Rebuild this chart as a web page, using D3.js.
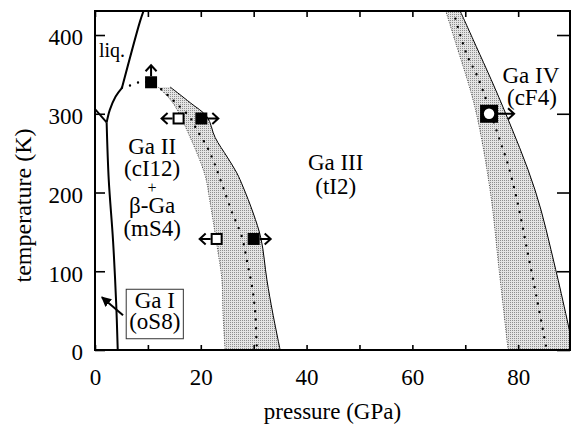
<!DOCTYPE html>
<html>
<head>
<meta charset="utf-8">
<script src="https://cdn.jsdelivr.net/npm/d3@7"></script>
<style>
body { margin: 0; background: #fff; }
text { font-family: "Liberation Serif", "Times New Roman", serif; fill: #000; }
</style>
</head>
<body>
<div id="phase_plot"></div>
<script>
// axis ticks
var pressureTicks = [0, 20, 40, 60, 80];
var pressureMinor = [10, 30, 50, 70];
var temperatureTicks = [0, 100, 200, 300, 400];

// phase lines, points are [pressure GPa, temperature K]
var meltGaI = [[0, 306], [2.2, 289]];
var lineGaI_II = [[2.2, 289], [2.6, 216], [3.4, 140], [4.0, 60], [4.3, 0]];
var meltGaII = [[2.2, 289], [2.8, 305], [3.9, 322], [5.1, 333]];
var meltGaIII = [[5.1, 333], [8.5, 417], [9.2, 431]];

// Ga II -> Ga III transition band
var bandII_left = [[11.9, 334], [14.7, 314], [18.0, 270], [20.8, 222], [21.7, 190], [23.1, 131], [24.0, 89], [24.2, 47], [24.6, 0]];
var bandII_right = [[14.2, 334], [18.0, 314], [21.2, 296], [22.7, 270], [25.0, 245], [26.8, 225], [28.0, 207], [29.9, 174], [31.4, 141], [32.5, 89], [33.6, 47], [35.0, 0]];
var bandII_mid = [[5.1, 333], [6.0, 334], [7.6, 339], [9.1, 340], [10.6, 340], [12.7, 330], [15.1, 315], [18.0, 295], [19.3, 279], [21.2, 258], [22.7, 235], [24.2, 207], [25.9, 175], [27.8, 143], [28.7, 114], [29.7, 80], [30.3, 47], [30.6, 4], [30.7, 0]];

// Ga III -> Ga IV transition band
var bandIV_left = [[66.3, 431], [68.0, 394], [71.8, 309], [74.7, 203], [76.4, 102], [78.1, 0]];
var bandIV_right = [[69.0, 431], [71.5, 394], [77.1, 309], [83.2, 203], [87.1, 102], [90.5, 0]];
var bandIV_mid = [[67.7, 431], [70.3, 375], [72.2, 349], [74.1, 315], [76.2, 273], [78.1, 235], [79.8, 190], [81.7, 127], [83.6, 63], [85.4, 0]];

// measured points with arrows
var markers = [
  {p: 10.6, t: 340, kind: "filled", dir: "up"},
  {p: 15.8, t: 294, kind: "open", dir: "left"},
  {p: 20.1, t: 294, kind: "filled", dir: "right"},
  {p: 23.0, t: 141, kind: "open", dir: "left"},
  {p: 30.0, t: 141, kind: "filled", dir: "right"},
  {p: 74.5, t: 300, kind: "circle", dir: "right"}
];

// phase labels, lines with the same block go into one text
var labels = [
  {block: "liq", text: "liq.", p: 0.75, t: 372, size: 20, anchor: "start"},
  {block: "II", text: "Ga II", p: 10.8, t: 249},
  {block: "II", text: "(cI12)", p: 10.8, t: 221},
  {block: "II", text: "+", p: 10.8, t: 200, size: 16},
  {block: "II", text: "β-Ga", p: 10.8, t: 174},
  {block: "II", text: "(mS4)", p: 10.8, t: 145},
  {block: "III", text: "Ga III", p: 45.5, t: 229},
  {block: "III", text: "(tI2)", p: 45.5, t: 198},
  {block: "IV", text: "Ga IV", p: 82.4, t: 339},
  {block: "IV", text: "(cF4)", p: 82.6, t: 311}
];
var gaIBoxLines = [{text: "Ga I", p: 11.3, t: 53}, {text: "(oS8)", p: 11.3, t: 27}];
var gaIArrow = [[5.3, 44], [1.3, 67]];


var PhasePlot = function(options){
	this.opt = {'target': 'phase_plot', 'width': 572, 'height': 428};
	Object.assign(this.opt, options || {});
	this.setupSVG();
	this.renderPlot();
};

PhasePlot.prototype.setupSVG = function(){
	var margin = {top: 11, right: 2, bottom: 78, left: 95};
	this.x = d3.scaleLinear().domain([0, 89.8]).range([margin.left, this.opt.width - margin.right]);
	this.y = d3.scaleLinear().domain([0, 430.5]).range([this.opt.height - margin.bottom, margin.top]);

	this.svg = d3.select("#" + this.opt.target).append("svg")
		.attr("width", this.opt.width)
		.attr("height", this.opt.height);

	var defs = this.svg.append("defs");
	defs.append("clipPath").attr("id", "plot_clip")
		.append("rect")
		.attr("x", this.x.range()[0]).attr("y", this.y.range()[1])
		.attr("width", this.x.range()[1] - this.x.range()[0])
		.attr("height", this.y.range()[0] - this.y.range()[1]);

	var pat = defs.append("pattern").attr("id", "stipple")
		.attr("width", 2).attr("height", 2).attr("patternUnits", "userSpaceOnUse");
	pat.append("rect").attr("width", 2).attr("height", 2).attr("fill", "#e4e4e4");
	pat.append("rect").attr("width", 1).attr("height", 1).attr("fill", "#8e8e8e");

	defs.append("marker").attr("id", "head")
		.attr("viewBox", "0 0 10 10").attr("refX", 9).attr("refY", 5)
		.attr("markerWidth", 10).attr("markerHeight", 10)
		.attr("markerUnits", "userSpaceOnUse").attr("orient", "auto")
		.append("path").attr("d", "M0,0L10,5L0,10Z").attr("fill", "#000");
};

PhasePlot.prototype.renderPlot = function(){
	var self = this;
	var x = this.x, y = this.y;
	var line = d3.line().x(function(d){ return x(d[0]); }).y(function(d){ return y(d[1]); })
		.curve(d3.curveCatmullRom);

	var plot = this.svg.append("g").attr("clip-path", "url(#plot_clip)");

	function band(left, right){
		var back = right.slice().reverse();
		return line(left) + line(back).replace(/^M/, "L") + "Z";
	}

	[[bandII_left, bandII_right, bandII_mid], [bandIV_left, bandIV_right, bandIV_mid]].forEach(function(b){
		plot.append("path").attr("d", band(b[0], b[1]))
			.attr("fill", "url(#stipple)").attr("stroke", "none");
		plot.append("path").attr("d", line(b[0]))
			.attr("fill", "none").attr("stroke", "#444").attr("stroke-width", 1)
			.attr("stroke-dasharray", "1,1.5");
		plot.append("path").attr("d", line(b[1]))
			.attr("fill", "none").attr("stroke", "#000").attr("stroke-width", 1);
		plot.append("path").attr("d", line(b[2]))
			.attr("fill", "none").attr("stroke", "#000").attr("stroke-width", 2.4)
			.attr("stroke-linecap", "round").attr("stroke-dasharray", "0,8.5");
	});

	[meltGaI, lineGaI_II, meltGaII, meltGaIII].forEach(function(l){
		plot.append("path").attr("d", line(l))
			.attr("fill", "none").attr("stroke", "#000").attr("stroke-width", 2);
	});

	// axes, ticks inward
	var allP = pressureTicks.concat(pressureMinor).sort(d3.ascending);
	var xAxis = d3.axisBottom(x).tickValues(allP).tickSize(-5).tickPadding(19)
		.tickFormat(function(d){ return pressureTicks.indexOf(d) >= 0 ? d : ""; });
	var xTop = d3.axisTop(x).tickValues(allP).tickSize(-6).tickFormat("");
	var yAxis = d3.axisLeft(y).tickValues(temperatureTicks).tickSize(-10).tickPadding(12);
	var yRight = d3.axisRight(y).tickValues(temperatureTicks).tickSize(-13).tickFormat("");

	var gx = this.svg.append("g").attr("transform", "translate(0," + y(0) + ")").call(xAxis);
	var gt = this.svg.append("g").attr("transform", "translate(0," + y.range()[1] + ")").call(xTop);
	var gy = this.svg.append("g").attr("transform", "translate(" + x(0) + ",0)").call(yAxis);
	var gr = this.svg.append("g").attr("transform", "translate(" + x.range()[1] + ",0)").call(yRight);
	[gx, gt, gy, gr].forEach(function(g){
		g.select(".domain").remove();
		g.selectAll(".tick line").attr("stroke", "#000").attr("stroke-width", 1.6);
		g.selectAll("text").attr("font-size", 23).attr("font-family", null).attr("fill", "#000");
	});
	gy.selectAll("text").attr("dy", "0.43em");

	this.svg.append("rect")
		.attr("x", x.range()[0]).attr("y", y.range()[1])
		.attr("width", x.range()[1] - x.range()[0]).attr("height", y.range()[0] - y.range()[1])
		.attr("fill", "none").attr("stroke", "#000").attr("stroke-width", 2);

	// markers
	var dirs = {up: [0, -1], left: [-1, 0], right: [1, 0]};
	markers.forEach(function(m){
		var cx = x(m.p), cy = y(m.t);
		var h = m.kind == "circle" ? 9 : 6;
		var len = m.kind == "circle" ? 16 : 11;
		var d = dirs[m.dir];
		var sx = cx + d[0] * h, sy = cy + d[1] * h;
		var tx = sx + d[0] * len, ty = sy + d[1] * len;
		var px = -d[1], py = d[0];
		var bx = tx - d[0] * 6, by = ty - d[1] * 6;
		self.svg.append("path")
			.attr("d", "M" + sx + "," + sy + "L" + tx + "," + ty +
				"M" + (bx + px * 5.5) + "," + (by + py * 5.5) + "L" + tx + "," + ty +
				"L" + (bx - px * 5.5) + "," + (by - py * 5.5))
			.attr("fill", "none").attr("stroke", "#000").attr("stroke-width", 2);
		if (m.kind == "open") {
			self.svg.append("rect").attr("x", cx - h + 1).attr("y", cy - h + 1)
				.attr("width", 2 * h - 2).attr("height", 2 * h - 2)
				.attr("fill", "#fff").attr("stroke", "#000").attr("stroke-width", 2);
		} else {
			self.svg.append("rect").attr("x", cx - h).attr("y", cy - h)
				.attr("width", 2 * h).attr("height", 2 * h).attr("fill", "#000");
		}
		if (m.kind == "circle") {
			self.svg.append("circle").attr("cx", cx).attr("cy", cy).attr("r", 5.2).attr("fill", "#fff");
		}
	});

	// labels, one text per block
	var blocks = d3.group(labels, function(d){ return d.block; });
	blocks.forEach(function(rows){
		self.svg.append("text").selectAll("tspan").data(rows).enter().append("tspan")
			.attr("x", function(d){ return x(d.p); })
			.attr("y", function(d){ return y(d.t); })
			.attr("font-size", function(d){ return d.size || 23; })
			.attr("text-anchor", function(d){ return d.anchor || "middle"; })
			.text(function(d){ return d.text; });
	});

	// Ga I box
	var boxG = this.svg.append("g");
	boxG.append("text").selectAll("tspan").data(gaIBoxLines).enter().append("tspan")
		.attr("x", function(d){ return x(d.p); })
		.attr("y", function(d){ return y(d.t); })
		.attr("font-size", 23).attr("text-anchor", "middle")
		.text(function(d){ return d.text; });
	var bb = boxG.node().getBBox();
	boxG.insert("rect", "text")
		.attr("x", bb.x - 3).attr("y", bb.y + 1)
		.attr("width", bb.width + 6).attr("height", bb.height + 4)
		.attr("fill", "#fff").attr("stroke", "#333").attr("stroke-width", 1);
	this.svg.append("path").attr("d", d3.line().x(function(d){ return x(d[0]); }).y(function(d){ return y(d[1]); })(gaIArrow))
		.attr("stroke", "#000").attr("stroke-width", 2).attr("marker-end", "url(#head)");

	// axis titles
	this.svg.append("text")
		.attr("x", (x.range()[0] + x.range()[1]) / 2).attr("y", 419)
		.attr("text-anchor", "middle").attr("font-size", 23)
		.text("pressure (GPa)");
	this.svg.append("text")
		.attr("transform", "translate(31," + ((y.range()[0] + y.range()[1]) / 2 + 25) + ") rotate(-90)")
		.attr("text-anchor", "middle").attr("font-size", 24)
		.text("temperature (K)");
};

new PhasePlot({'target': 'phase_plot'});
</script>
</body>
</html>
